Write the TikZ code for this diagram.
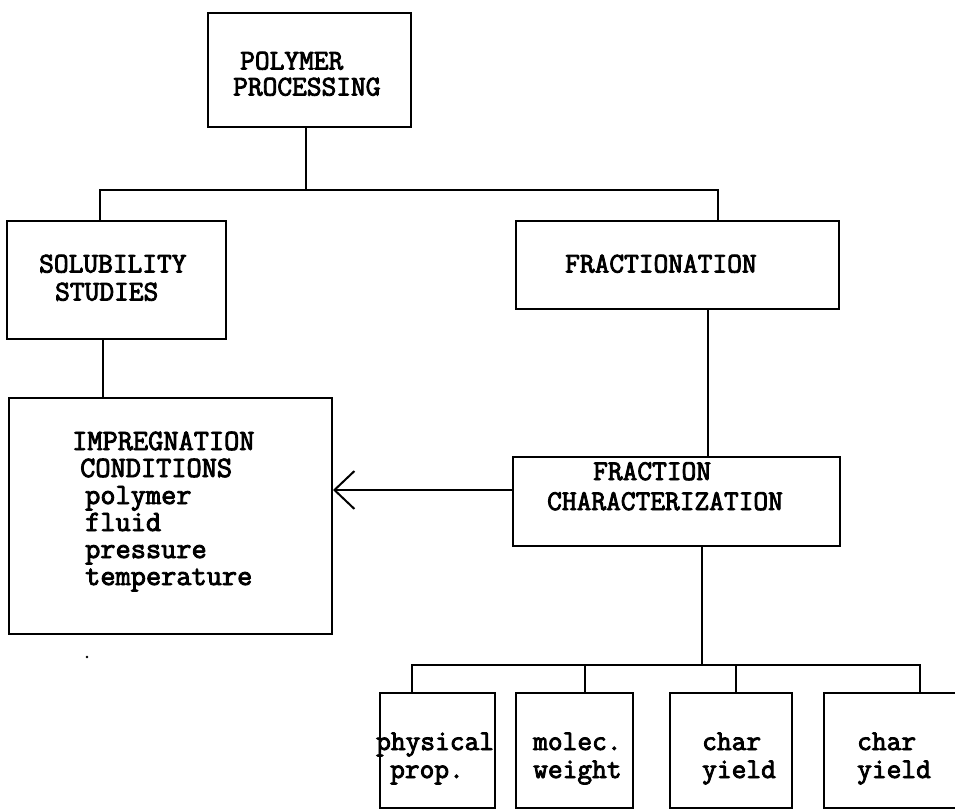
\documentclass[tikz,border=0pt]{standalone}
\usepackage{fontspec}
\newfontfamily\tw{Latin Modern Mono}[FakeBold=3]
\usetikzlibrary{arrows.meta}
\tikzset{
  box/.style={draw, line width=2pt, inner sep=0pt},
  txt/.style={anchor=base west, inner sep=0pt, font=\tw\fontsize{28.6}{30}\selectfont},
  txtb/.style={anchor=base west, inner sep=0pt, font=\tw\fontsize{29.5}{31}\selectfont},
  conn/.style={line width=2pt},
}
\begin{document}
\begin{tikzpicture}[x=1pt,y=-1pt]
\useasboundingbox (0,0) rectangle (955,811);
% boxes
\node[box, minimum width=203pt, minimum height=114pt] (poly) at (309.5,70) {};
\node[box, minimum width=219pt, minimum height=118pt] (sol) at (116.5,280) {};
\node[box, minimum width=323pt, minimum height=88pt] (frac) at (677.5,265) {};
\node[box, minimum width=323pt, minimum height=236pt] (imp) at (170.5,516) {};
\node[box, minimum width=327pt, minimum height=89pt] (fc) at (676.5,501.5) {};
\node[box, minimum width=115pt, minimum height=115pt] (phys) at (437.5,750.5) {};
\node[box, minimum width=117pt, minimum height=115pt] (mol) at (574.5,750.5) {};
\node[box, minimum width=122pt, minimum height=115pt] (ch1) at (731,750.5) {};
\node[box, minimum width=138pt, minimum height=115pt] (ch2) at (893,750.5) {};
% texts
\node[txt] (t1) at (240,69.5) {POLYMER};
\node[txt] (t2) at (233,95.5) {PROCESSING};
\node[txt] (t3) at (39,272.5) {SOLUBILITY};
\node[txt] (t4) at (55,300.5) {STUDIES};
\node[txt] (t5) at (565,272.5) {FRACTIONATION};
\node[txtb] (t6) at (72,450) {IMPREGNATION};
\node[txtb] (t7) at (80,477) {CONDITIONS};
\node[txtb] (t8) at (85,504) {polymer};
\node[txtb] (t9) at (85,531) {fluid};
\node[txtb] (t10) at (85,558) {pressure};
\node[txtb] (t11) at (85,585) {temperature};
\node[txt] (t12) at (593,480) {FRACTION};
\node[txt] (t13) at (547,510) {CHARACTERIZATION};
\node[txt] (t14) at (376,750) {physical};
\node[txt] (t15) at (390,778) {prop.};
\node[txt] (t16) at (533,750) {molec.};
\node[txt] (t17) at (533,778) {weight};
\node[txt] (t18) at (702,750) {char};
\node[txt] (t19) at (702,778) {yield};
\node[txt] (t20) at (857,750) {char};
\node[txt] (t21) at (857,778) {yield};
% junctions
\coordinate (j1) at (306,190);
\coordinate (j1l) at (100,190);
\coordinate (j1r) at (718,190);
\coordinate (xs) at (103,0);
\coordinate (xf) at (708,0);
\coordinate (ya) at (0,490);
\coordinate (j2) at (702,665);
\coordinate (j2a) at (412,665);
\coordinate (j2b) at (585,665);
\coordinate (j2c) at (736,665);
\coordinate (j2d) at (920,665);
% connectors
\draw[conn] (poly.south -| j1) -- (j1);
\draw[conn] (sol.north -| j1l) -- (j1l) -- (j1r) -- (frac.north -| j1r);
\draw[conn] (sol.south -| xs) -- (imp.north -| xs);
\draw[conn] (frac.south -| xf) -- (fc.north -| xf);
\draw[conn, -{Straight Barb[length=20pt, width=38pt, line width=2pt]}] (fc.west |- ya) -- (imp.east |- ya);
\draw[conn] (fc.south -| j2) -- (j2);
\draw[conn] (phys.north -| j2a) -- (j2a) -- (j2d) -- (ch2.north -| j2d);
\draw[conn] (j2b) -- (mol.north -| j2b);
\draw[conn] (j2c) -- (ch1.north -| j2c);
\fill (87,657) circle (1.3pt);
\end{tikzpicture}
\end{document}
